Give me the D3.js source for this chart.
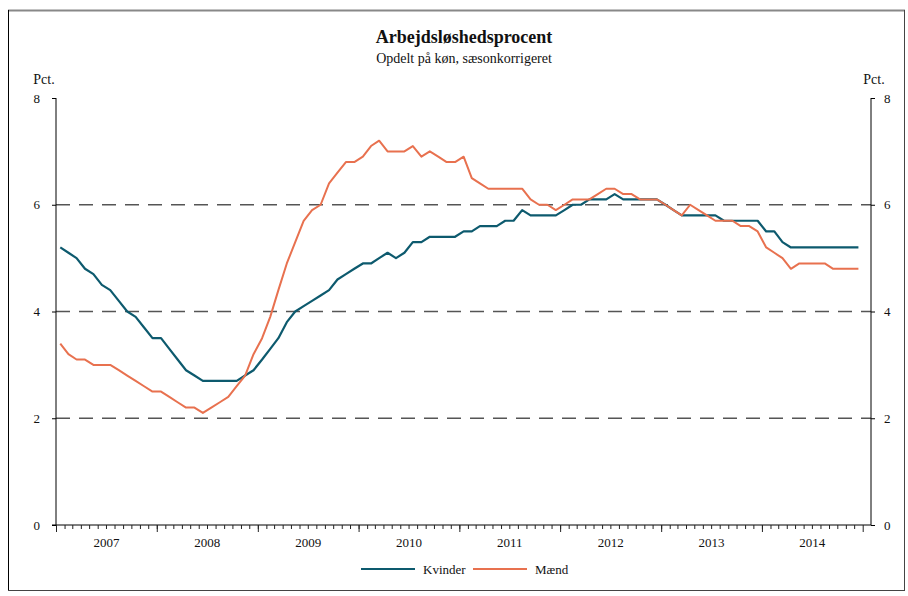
<!DOCTYPE html>
<html>
<head>
<meta charset="utf-8">
<script src="https://cdn.jsdelivr.net/npm/d3@7"></script>
<style>
    body { margin: 0; background: #fff; }
    text { font-family: "Liberation Serif", "DejaVu Serif", serif; fill: #111; }
</style>
</head>
<body>
<svg id="chart"></svg>
<script>
const width = 908,
      height = 596;

// data: monthly values jan 2007 - dec 2014
const startYear = 2007, endYear = 2015;
const yTicks = [0, 2, 4, 6, 8];
const gridTicks = [2, 4, 6];
const seriesNames = ["Kvinder", "Mænd"];
const kvinder = [
    5.2,5.1,5.0,4.8,4.7,4.5,4.4,4.2,4.0,3.9,3.7,3.5,
    3.5,3.3,3.1,2.9,2.8,2.7,2.7,2.7,2.7,2.7,2.8,2.9,
    3.1,3.3,3.5,3.8,4.0,4.1,4.2,4.3,4.4,4.6,4.7,4.8,
    4.9,4.9,5.0,5.1,5.0,5.1,5.3,5.3,5.4,5.4,5.4,5.4,
    5.5,5.5,5.6,5.6,5.6,5.7,5.7,5.9,5.8,5.8,5.8,5.8,
    5.9,6.0,6.0,6.1,6.1,6.1,6.2,6.1,6.1,6.1,6.1,6.1,
    6.0,5.9,5.8,5.8,5.8,5.8,5.8,5.7,5.7,5.7,5.7,5.7,
    5.5,5.5,5.3,5.2,5.2,5.2,5.2,5.2,5.2,5.2,5.2,5.2
];
const maend = [
    3.4,3.2,3.1,3.1,3.0,3.0,3.0,2.9,2.8,2.7,2.6,2.5,
    2.5,2.4,2.3,2.2,2.2,2.1,2.2,2.3,2.4,2.6,2.8,3.2,
    3.5,3.9,4.4,4.9,5.3,5.7,5.9,6.0,6.4,6.6,6.8,6.8,
    6.9,7.1,7.2,7.0,7.0,7.0,7.1,6.9,7.0,6.9,6.8,6.8,
    6.9,6.5,6.4,6.3,6.3,6.3,6.3,6.3,6.1,6.0,6.0,5.9,
    6.0,6.1,6.1,6.1,6.2,6.3,6.3,6.2,6.2,6.1,6.1,6.1,
    6.0,5.9,5.8,6.0,5.9,5.8,5.7,5.7,5.7,5.6,5.6,5.5,
    5.2,5.1,5.0,4.8,4.9,4.9,4.9,4.9,4.8,4.8,4.8,4.8
];
const colors = ["#0d5a6e", "#e8714f"];

const plot = {left: 56, right: 871, top: 98, bottom: 525, xEnd: 862.7};

const svg = d3.select("#chart").attr("width", width).attr("height", height);

// frame round the whole chart
svg.append("line").attr("x1", 8).attr("x2", 905).attr("y1", 10.5).attr("y2", 10.5)
    .attr("stroke", "#888").attr("stroke-width", 2);
svg.append("line").attr("x1", 8.5).attr("x2", 8.5).attr("y1", 10).attr("y2", 591)
    .attr("stroke", "#000");
svg.append("line").attr("x1", 904.5).attr("x2", 904.5).attr("y1", 10).attr("y2", 591)
    .attr("stroke", "#444");
svg.append("line").attr("x1", 8).attr("x2", 905).attr("y1", 590.5).attr("y2", 590.5)
    .attr("stroke", "#444");

const x = d3.scaleTime()
    .domain([new Date(startYear, 0, 1), new Date(endYear, 0, 1)])
    .range([plot.left, plot.xEnd]);

const y = d3.scaleLinear().domain([0, 8]).range([plot.bottom, plot.top]);

const months = d3.timeMonth.range(new Date(startYear, 0, 1), new Date(endYear, 0, 1));
const midMonth = d => (x(d) + x(d3.timeMonth.offset(d, 1))) / 2;

// dashed grid
svg.append("g").selectAll("line").data(gridTicks).enter().append("line")
    .attr("x1", plot.left).attr("x2", plot.right)
    .attr("y1", d => y(d)).attr("y2", d => y(d))
    .attr("stroke", "#555").attr("stroke-width", 1.4)
    .attr("stroke-dasharray", "14,9");

// left axis
const leftAxis = svg.append("g").attr("transform", `translate(${plot.left},0)`)
    .call(d3.axisLeft(y).tickValues(yTicks).tickSize(4).tickPadding(12).tickFormat(d3.format("d")));
leftAxis.select(".domain").attr("stroke", "#000").attr("d", `M0,${plot.top}V${plot.bottom}`);

// right axis
const rightAxis = svg.append("g").attr("transform", `translate(${plot.right},0)`)
    .call(d3.axisRight(y).tickValues(yTicks).tickSize(4).tickPadding(9).tickFormat(d3.format("d")));
rightAxis.select(".domain").attr("stroke", "#000").attr("d", `M0,${plot.top}V${plot.bottom}`);

svg.selectAll(".tick text").style("font-family", "'Liberation Serif', serif").style("font-size", "13px");

// x axis: monthly minor ticks, yearly major ticks
const xg = svg.append("g").attr("transform", `translate(0,${plot.bottom})`);
xg.append("line").attr("x1", plot.left - 4).attr("x2", plot.right)
    .attr("stroke", "#000");
xg.selectAll(".minor").data(months).enter().append("line")
    .attr("x1", d => x(d) + 0.5).attr("x2", d => x(d) + 0.5)
    .attr("y1", 0).attr("y2", 4).attr("stroke", "#222");
const years = d3.timeYear.range(new Date(startYear, 0, 1), new Date(endYear, 0, 2));
xg.selectAll(".major").data(years).enter().append("line")
    .attr("x1", d => x(d) + 0.5).attr("x2", d => x(d) + 0.5)
    .attr("y1", 0).attr("y2", 7).attr("stroke", "#222");
xg.selectAll(".ylab").data(years.slice(0, -1)).enter().append("text")
    .attr("x", d => (x(d) + x(d3.timeYear.offset(d, 1))) / 2)
    .attr("y", 22).attr("text-anchor", "middle")
    .style("font-size", "13px")
    .text(d => d.getFullYear());

// lines
const line = d3.line()
    .x((d, i) => midMonth(months[i]))
    .y(d => y(d));

[kvinder, maend].forEach((s, k) => {
    svg.append("path").datum(s)
        .attr("fill", "none")
        .attr("stroke", colors[k])
        .attr("stroke-width", k == 0 ? 2.2 : 2)
        .attr("stroke-linejoin", "round")
        .attr("d", line);
});

// titles
svg.append("text").attr("x", 464).attr("y", 43).attr("text-anchor", "middle")
    .style("font-size", "18px").style("font-weight", "bold").text("Arbejdsløshedsprocent");
svg.append("text").attr("x", 464).attr("y", 63).attr("text-anchor", "middle")
    .style("font-size", "14px").text("Opdelt på køn, sæsonkorrigeret");
svg.append("text").attr("x", 44).attr("y", 84).attr("text-anchor", "middle")
    .style("font-size", "14px").text("Pct.");
svg.append("text").attr("x", 874).attr("y", 84).attr("text-anchor", "middle")
    .style("font-size", "14px").text("Pct.");

// legend
const legendX = [361, 473];
seriesNames.forEach((name, k) => {
    svg.append("line").attr("x1", legendX[k]).attr("x2", legendX[k] + 54)
        .attr("y1", 569).attr("y2", 569)
        .attr("stroke", colors[k]).attr("stroke-width", 2);
    svg.append("text").attr("x", legendX[k] + 62).attr("y", 573.5)
        .style("font-size", "13px").text(name);
});
</script>
</body>
</html>
